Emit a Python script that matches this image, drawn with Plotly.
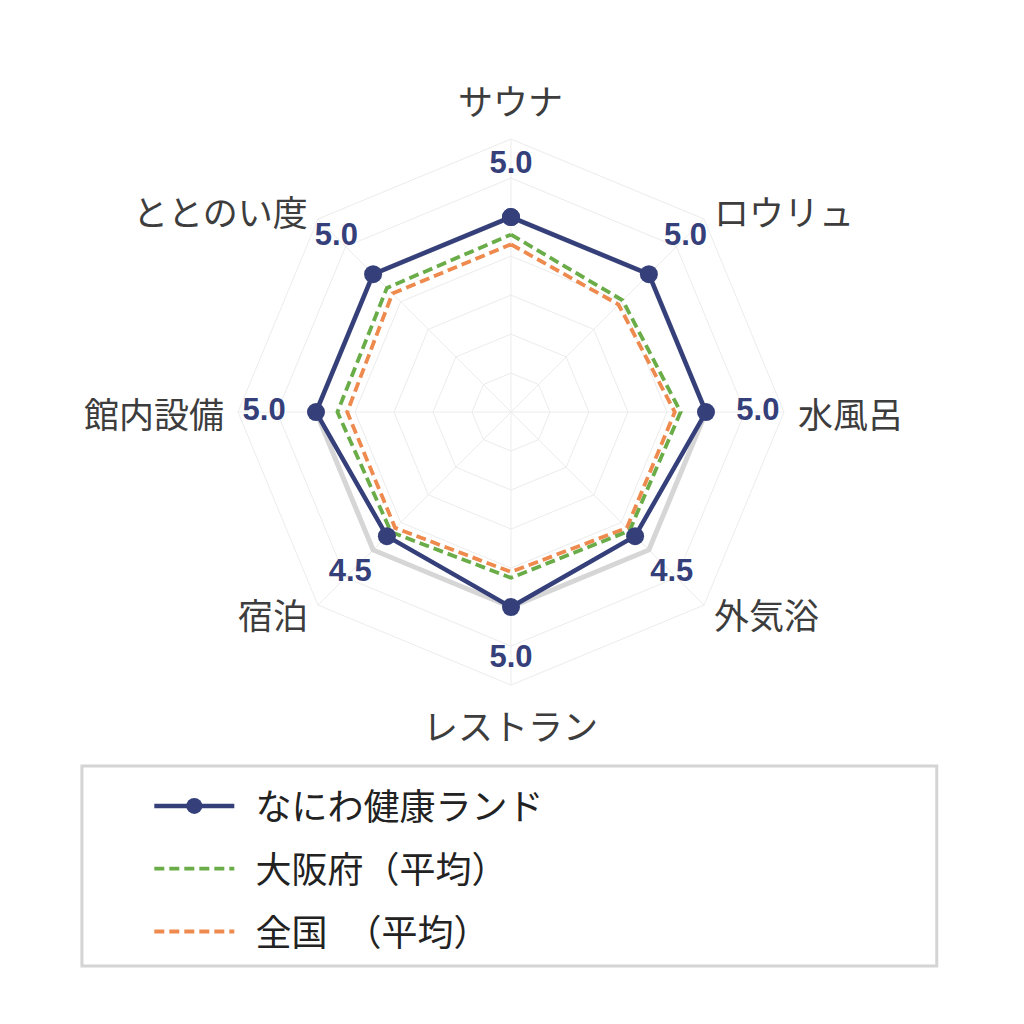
import math
import plotly.graph_objects as go

# radar categories (clockwise from top)
categories = ["サウナ", "ロウリュ", "水風呂", "外気浴", "レストラン", "宿泊", "館内設備", "ととのい度"]

naniwa = [5.0, 5.0, 5.0, 4.5, 5.0, 4.5, 5.0, 5.0]
osaka_avg = [4.55, 4.05, 4.35, 4.3, 4.25, 4.35, 4.45, 4.5]
japan_avg = [4.3, 3.9, 4.2, 4.2, 4.1, 4.2, 4.2, 4.3]
max_ref = [5.0, 5.0, 5.0, 5.0, 5.0, 5.0, 5.0, 5.0]

names = ["なにわ健康ランド", "大阪府（平均）", "全国　（平均）"]

NAVY = "#35407a"
GREEN = "#6aad48"
ORANGE = "#ee8a4e"
JP_FONT = "Noto Sans CJK JP"
R_MAX = 7
PAD = "\u00a0\u00a0"  # gap between legend symbol and text

DOM_X = [0.2246, 0.7578]
DOM_Y = [0.3388, 0.872]


def closed(vals):
    return list(vals) + [vals[0]]


theta = closed(categories)

fig = go.Figure()

# light grey reference outline (only visible where the main line dips)
fig.add_trace(go.Scatterpolar(r=closed(max_ref), theta=theta, mode="lines",
                              line=dict(color="#d6d6d6", width=5),
                              showlegend=False, hoverinfo="skip"))

fig.add_trace(go.Scatterpolar(r=closed(japan_avg), theta=theta, mode="lines",
                              name=PAD + names[2], legendgroup="c", legendrank=3,
                              line=dict(color=ORANGE, width=3.8, dash="10px,5px")))
fig.add_trace(go.Scatterpolar(r=closed(osaka_avg), theta=theta, mode="lines",
                              name=PAD + names[1], legendgroup="b", legendrank=2,
                              line=dict(color=GREEN, width=3.8, dash="10px,5px")))
fig.add_trace(go.Scatterpolar(r=closed(naniwa), theta=theta, mode="lines+markers",
                              name=PAD + names[0], legendgroup="a", legendrank=1,
                              line=dict(color=NAVY, width=4.5),
                              marker=dict(color=NAVY, size=18)))

# value labels just outside each point
fig.add_trace(go.Scatterpolar(r=[v + 1.33 for v in naniwa], theta=categories, mode="text",
                              text=[f"{v:.1f}" for v in naniwa],
                              textfont=dict(family="Liberation Sans", size=31, color=NAVY,
                                            weight="bold"),
                              showlegend=False, hoverinfo="skip"))

# category names placed just outside the outer ring
cx = sum(DOM_X) / 2
cy = sum(DOM_Y) / 2
label_r = (DOM_X[1] - DOM_X[0]) / 2 * 7.3 / R_MAX
annotations = []
for i, cat in enumerate(categories):
    ang = math.radians(90 - 45 * i)
    dx, dy = math.cos(ang), math.sin(ang)
    xa = "center" if abs(dx) < 0.01 else ("left" if dx > 0 else "right")
    ya = "middle" if abs(dx) > 0.01 else ("bottom" if dy > 0 else "top")
    annotations.append(dict(x=cx + label_r * dx, y=cy + label_r * dy,
                            xref="paper", yref="paper", text=cat, showarrow=False,
                            xanchor=xa, yanchor=ya,
                            font=dict(family=JP_FONT, size=35, color="#3d3d3d")))

fig.update_layout(
    width=1024, height=1024,
    margin=dict(l=0, r=0, t=0, b=0),
    paper_bgcolor="white",
    font=dict(family=JP_FONT, color="#333333"),
    polar=dict(
        domain=dict(x=DOM_X, y=DOM_Y),
        bgcolor="white",
        gridshape="linear",
        radialaxis=dict(range=[0, R_MAX], dtick=1, showticklabels=False, ticks="",
                        showline=False, gridcolor="#ececec", gridwidth=1),
        angularaxis=dict(rotation=90, direction="clockwise", ticks="",
                         showticklabels=False,
                         gridcolor="#ececec", linecolor="#ececec", linewidth=1),
    ),
    legend=dict(x=0.138, y=0.25, xanchor="left", yanchor="top",
                traceorder="grouped", tracegroupgap=13, itemwidth=80,
                bgcolor="rgba(0,0,0,0)",
                font=dict(family=JP_FONT, size=36, color="#222222")),
    annotations=annotations,
    shapes=[dict(type="rect", xref="paper", yref="paper",
                 x0=0.0722, x1=0.907, y0=0.0644, y1=0.2598,
                 line=dict(color="#d4d4d4", width=3))],
)

fig.write_html("out.html")
